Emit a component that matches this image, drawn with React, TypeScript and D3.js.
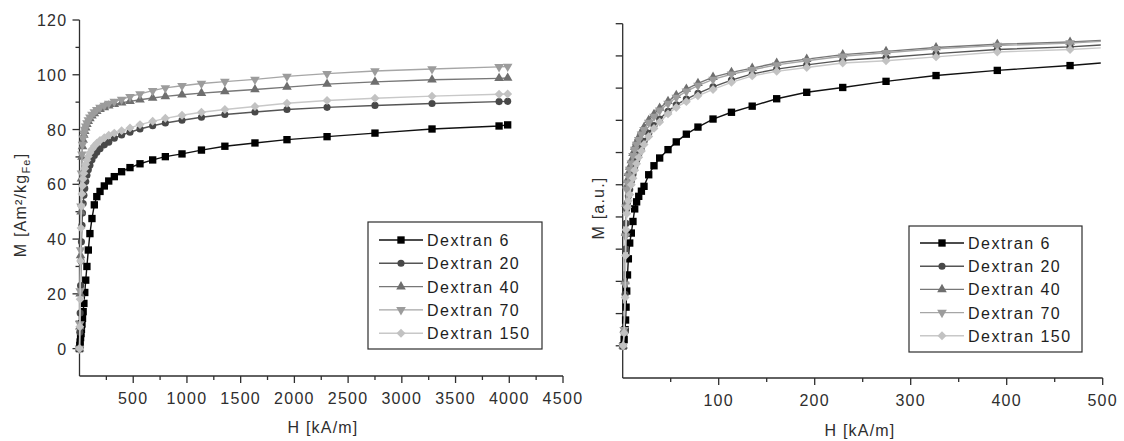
import React from "react";
import * as d3 from "d3";

// left panel: M in Am²/kg_Fe against H in kA/m
const leftH = [0, 3, 6, 10, 14, 18, 23, 28, 34, 41, 49, 58, 69, 82, 97, 116, 138, 161, 191, 231, 272, 324, 392, 470, 563, 681, 799, 954, 1135, 1353, 1633, 1931, 2304, 2750, 3281, 3905, 3985];
const leftD6 = [0, 1.2, 2.4, 4, 5.5, 7, 9, 11, 13.5, 16.5, 20.5, 25, 30, 36, 42, 47.5, 52.5, 55.5, 57.4, 59.4, 61.2, 62.8, 64.6, 66.1, 67.5, 68.9, 70.1, 71.1, 72.5, 73.9, 75.1, 76.3, 77.4, 78.7, 80.2, 81.3, 81.7];
const leftD20 = [0, 6, 13, 23, 32, 39, 45, 49.5, 53, 56, 58.5, 61, 63.3, 65.3, 67, 69, 70.5, 71.7, 73, 74.4, 75.4, 76.8, 78, 79, 80.2, 81.4, 82.4, 83.4, 84.5, 85.5, 86.4, 87.3, 88.1, 88.8, 89.5, 90.2, 90.3];
const leftD40 = [0, 8, 20, 34, 50, 62, 70, 73.8, 76.2, 78, 79.4, 80.7, 81.9, 83, 84, 85, 85.9, 86.7, 87.4, 88.1, 88.7, 89.2, 89.8, 90.3, 90.9, 91.5, 92.1, 92.7, 93.3, 93.9, 94.6, 95.5, 96.6, 97.4, 98.2, 98.7, 98.8];
const leftD70 = [0, 9, 21, 36, 52, 64, 71, 74.5, 76.8, 78.6, 80, 81.2, 82.4, 83.5, 84.5, 85.5, 86.4, 87.2, 88, 88.8, 89.5, 90.2, 91, 92, 93, 94.2, 95.2, 96, 96.8, 97.5, 98.3, 99.4, 100.4, 101.4, 102.1, 102.9, 103];
const leftD150 = [0, 8, 18, 32, 44, 52, 56.5, 59.5, 62, 64, 65.8, 67.3, 68.8, 70.2, 71.5, 72.8, 74, 75, 76, 77, 77.9, 78.7, 79.6, 80.6, 81.8, 83, 84.1, 85.2, 86.3, 87.3, 88.4, 89.6, 90.6, 91.4, 92.2, 92.9, 93];

// right panel: normalised M (a.u.) against H in kA/m
const rightH = [0.5, 1.5, 2.5, 3, 3.5, 4.2, 5, 5.9, 7.3, 9, 10.7, 12.5, 14.5, 16.7, 19.5, 22.2, 27.1, 32.6, 38.5, 47.2, 55.8, 66.3, 78.4, 94.1, 113.3, 134.9, 160.4, 191.7, 229.2, 274.3, 326.4, 390.2, 466, 498];
const rightD6 = [0, 0.02, 0.05, 0.08, 0.12, 0.17, 0.22, 0.27, 0.319, 0.35, 0.386, 0.425, 0.447, 0.464, 0.48, 0.495, 0.531, 0.559, 0.583, 0.609, 0.633, 0.657, 0.679, 0.704, 0.725, 0.744, 0.767, 0.787, 0.802, 0.821, 0.839, 0.855, 0.87, 0.878];
const rightD20 = [0, 0.04, 0.16, 0.3, 0.38, 0.425, 0.445, 0.465, 0.485, 0.512, 0.532, 0.556, 0.576, 0.595, 0.615, 0.635, 0.66, 0.684, 0.704, 0.728, 0.748, 0.766, 0.784, 0.804, 0.825, 0.844, 0.859, 0.872, 0.886, 0.895, 0.907, 0.92, 0.928, 0.934];
const rightD40 = [0, 0.05, 0.2, 0.35, 0.44, 0.495, 0.515, 0.536, 0.555, 0.575, 0.598, 0.617, 0.633, 0.647, 0.664, 0.678, 0.7, 0.719, 0.738, 0.759, 0.778, 0.797, 0.815, 0.834, 0.849, 0.862, 0.878, 0.89, 0.904, 0.914, 0.926, 0.936, 0.943, 0.948];
const rightD70 = [0, 0.05, 0.19, 0.34, 0.43, 0.485, 0.505, 0.527, 0.547, 0.567, 0.59, 0.609, 0.625, 0.64, 0.657, 0.671, 0.693, 0.712, 0.731, 0.752, 0.771, 0.79, 0.808, 0.827, 0.843, 0.857, 0.872, 0.885, 0.899, 0.91, 0.922, 0.932, 0.94, 0.945];
const rightD150 = [0, 0.04, 0.15, 0.28, 0.36, 0.41, 0.43, 0.45, 0.47, 0.5, 0.52, 0.545, 0.565, 0.585, 0.605, 0.625, 0.65, 0.675, 0.695, 0.72, 0.74, 0.758, 0.776, 0.796, 0.818, 0.838, 0.852, 0.864, 0.878, 0.885, 0.897, 0.912, 0.92, 0.925];

const seriesNames = ["Dextran 6", "Dextran 20", "Dextran 40", "Dextran 70", "Dextran 150"];

const leftXTicks = [500, 1000, 1500, 2000, 2500, 3000, 3500, 4000, 4500];
const leftYTicks = [0, 20, 40, 60, 80, 100, 120];
const rightXTicks = [100, 200, 300, 400, 500];
const rightYTicks = [0, 0.1, 0.2, 0.3, 0.4, 0.5, 0.6, 0.7, 0.8, 0.9, 1.0];

const FONT = "'Liberation Sans', Arial, Helvetica, sans-serif";
const AXIS = "#2e2e2e";

const styles = [
  { fill: "#000", stroke: "#111", shape: "square" },
  { fill: "#484848", stroke: "#555", shape: "circle" },
  { fill: "#6e6e6e", stroke: "#777", shape: "up" },
  { fill: "#9c9c9c", stroke: "#a6a6a6", shape: "down" },
  { fill: "#c2c2c2", stroke: "#c8c8c8", shape: "diamond" },
];

const sq = d3.symbol().type(d3.symbolSquare).size(54)();
const circ = d3.symbol().type(d3.symbolCircle).size(40)();
const tri = d3.symbol().type(d3.symbolTriangle).size(40)();
const dia = d3.symbol().type(d3.symbolSquare).size(40)();

function Marker({ shape, x, y, fill }) {
  let d = sq;
  let rot = 0;
  if (shape === "circle") d = circ;
  if (shape === "up") d = tri;
  if (shape === "down") { d = tri; rot = 180; }
  if (shape === "diamond") { d = dia; rot = 45; }
  return <path d={d} fill={fill} transform={`translate(${x},${y}) rotate(${rot})`} />;
}

function Curves({ hs, series, x, y, lastMarker }) {
  const line = d3.line().x((d) => x(d[0])).y((d) => y(d[1]));
  return (
    <g>
      {series.map((vals, i) => {
        const pts = hs.map((h, j) => [h, vals[j]]);
        const st = styles[i];
        const mpts = lastMarker ? pts : pts.slice(0, -1);
        return (
          <g key={i}>
            <path d={line(pts)} fill="none" stroke={st.stroke} strokeWidth={1.4} />
            {mpts.map((p, j) => (
              <Marker key={j} shape={st.shape} x={x(p[0])} y={y(p[1])} fill={st.fill} />
            ))}
          </g>
        );
      })}
    </g>
  );
}

function Legend({ x, y, w, h, gap, first }) {
  return (
    <g>
      <rect x={x} y={y} width={w} height={h} fill="#fff" stroke={AXIS} strokeWidth={1.2} />
      {seriesNames.map((name, i) => {
        const cy = y + first + i * gap;
        const st = styles[i];
        return (
          <g key={name}>
            <line x1={x + 11} x2={x + 55} y1={cy} y2={cy} stroke={st.stroke} strokeWidth={1.4} />
            <Marker shape={st.shape} x={x + 33} y={cy} fill={st.fill} />
            <text x={x + 59} y={cy + 6} fontSize={16} letterSpacing={1.5} fill="#1e1e1e">{name}</text>
          </g>
        );
      })}
    </g>
  );
}

function Axes({ x, y, xTicks, xMinor, yTicks, yMinor, yLabels, yFmt }) {
  const [x0, x1] = x.range();
  const [y0, y1] = y.range();
  return (
    <g stroke={AXIS} strokeWidth={1.3}>
      <line x1={x0} x2={x1} y1={y0} y2={y0} />
      <line x1={x0} x2={x0} y1={y0} y2={y1} />
      {xTicks.map((t) => (
        <g key={"x" + t}>
          <line x1={x(t)} x2={x(t)} y1={y0} y2={y0 + 7} />
          <text x={x(t)} y={y0 + 28} textAnchor="middle" fontSize={16} letterSpacing={1.3} fill={AXIS} stroke="none">{t}</text>
        </g>
      ))}
      {xMinor.map((t) => (
        <line key={"xm" + t} x1={x(t)} x2={x(t)} y1={y0} y2={y0 + 4} />
      ))}
      {yTicks.map((t) => (
        <g key={"y" + t}>
          <line x1={x0} x2={x0 - 7} y1={y(t)} y2={y(t)} />
          {yLabels && (
            <text x={x0 - 12} y={y(t) + 6} textAnchor="end" fontSize={16} letterSpacing={1.3} fill={AXIS} stroke="none">{yFmt(t)}</text>
          )}
        </g>
      ))}
      {yMinor.map((t) => (
        <line key={"ym" + t} x1={x0} x2={x0 - 4} y1={y(t)} y2={y(t)} />
      ))}
    </g>
  );
}

export default function App() {
  const lx = d3.scaleLinear().domain([0, 4500]).range([79.5, 563]);
  const ly = d3.scaleLinear().domain([-10, 120]).range([376, 20]);
  const rx = d3.scaleLinear().domain([0, 500]).range([622.7, 1102.7]);
  const ry = d3.scaleLinear().domain([-0.1, 1.0]).range([378, 23.7]);

  const leftSeries = [leftD6, leftD20, leftD40, leftD70, leftD150];
  const rightSeries = [rightD6, rightD20, rightD40, rightD70, rightD150];

  return (
    <svg width={1124} height={441} style={{ position: "absolute", left: 0, top: 0, background: "#fff" }} fontFamily={FONT}>
      <Axes x={lx} y={ly} xTicks={leftXTicks} xMinor={d3.range(250, 4500, 500)} yTicks={leftYTicks}
        yMinor={d3.range(10, 120, 20)} yLabels={true} yFmt={(t) => t} />
      <Curves hs={leftH} series={leftSeries} x={lx} y={ly} lastMarker={true} />
      <Legend x={368} y={222} w={174} h={127} gap={23.3} first={18} />
      <text x={323} y={433} textAnchor="middle" fontSize={16} letterSpacing={1.2} fill={AXIS}>H [kA/m]</text>
      <text transform="translate(26,205) rotate(-90)" textAnchor="middle" fontSize={16} letterSpacing={1.2} fill={AXIS}>
        M [Am²/kg<tspan fontSize={11} dy={4}>Fe</tspan><tspan dy={-4}>]</tspan>
      </text>

      <Axes x={rx} y={ry} xTicks={rightXTicks} xMinor={d3.range(50, 500, 100)} yTicks={rightYTicks}
        yMinor={[]} yLabels={false} yFmt={(t) => t} />
      <Curves hs={rightH} series={rightSeries} x={rx} y={ry} lastMarker={false} />
      <Legend x={909} y={226} w={173} h={126} gap={23.2} first={17} />
      <text x={860} y={436} textAnchor="middle" fontSize={16} letterSpacing={1.2} fill={AXIS}>H [kA/m]</text>
      <text transform="translate(604,208) rotate(-90)" textAnchor="middle" fontSize={16} letterSpacing={1.2} fill={AXIS}>M [a.u.]</text>
    </svg>
  );
}
